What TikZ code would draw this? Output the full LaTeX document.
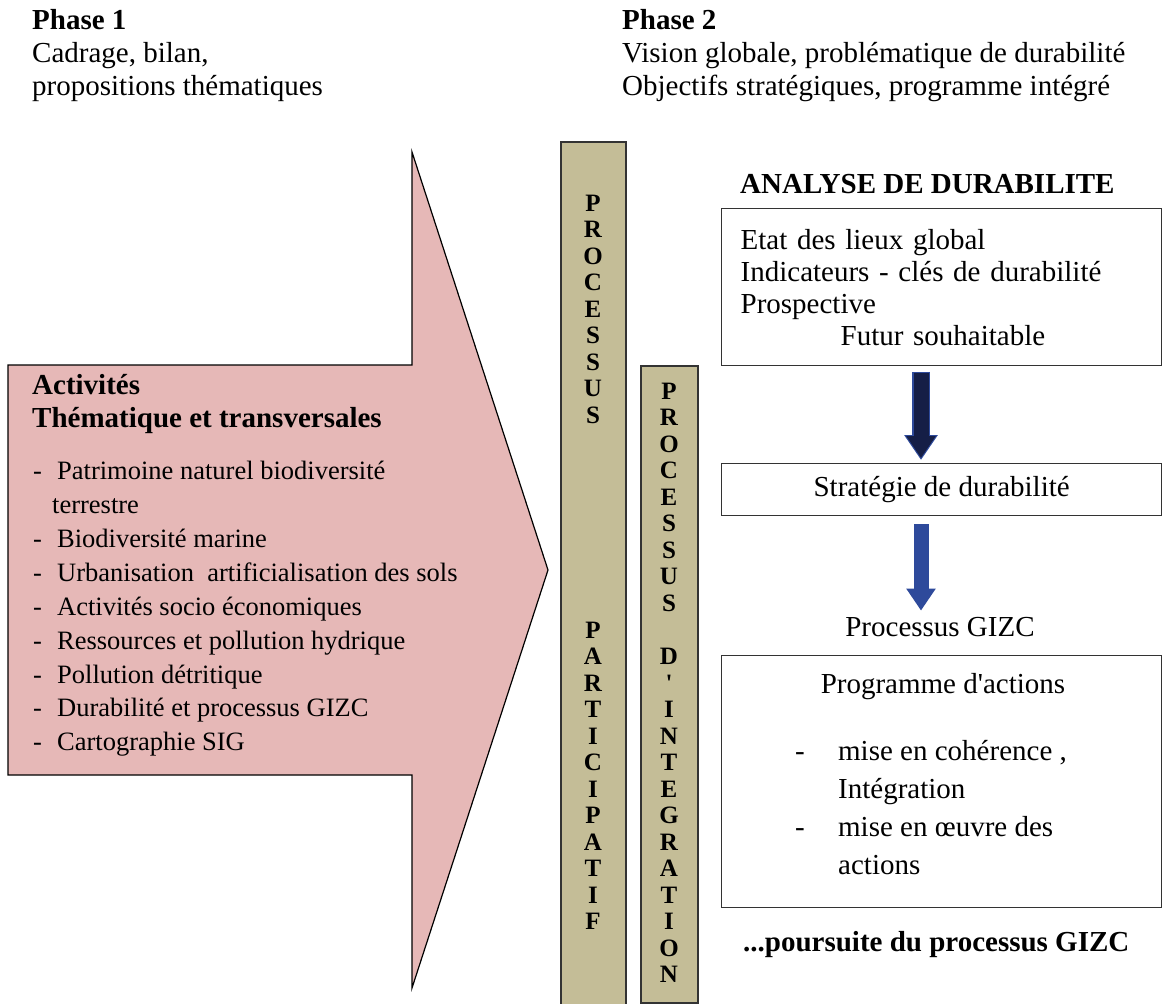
\documentclass[tikz,border=0pt]{standalone}
\usepackage{fontspec}
\setmainfont{Liberation Serif}
\usetikzlibrary{arrows.meta,positioning,calc}

\definecolor{arrowpink}{HTML}{E6B8B7}
\definecolor{bartan}{HTML}{C4BD97}
\definecolor{navy}{HTML}{151E46}
\definecolor{flowblue}{HTML}{2E4A9B}

\begin{document}
\begin{tikzpicture}[
    x=1pt, y=-1pt,
    every node/.style={inner sep=0pt, font=\fontsize{29}{32}\selectfont},
    bar/.style={rectangle, draw=black!80, fill=bartan, line width=1.5pt, anchor=north},
    bartext/.style={align=center, font=\bfseries\fontsize{25}{26.5}\selectfont},
    box/.style={rectangle, draw=black!80, line width=1.3pt, minimum width=440pt, anchor=north west},
    header/.style={anchor=north west, align=left, font=\fontsize{29}{33}\selectfont},
    flowarrow/.style={line width=15pt, -{Triangle[length=22pt, width=28pt]}}
]
\useasboundingbox (0,0) rectangle (1162,1004);

% Phases
\node[header] (phaseone) at (32,9) {\textbf{Phase 1}\\Cadrage, bilan,\\propositions thématiques};
\node[header] (phasetwo) at (622,9) {\textbf{Phase 2}\\Vision globale, problématique de durabilité\\Objectifs stratégiques, programme intégré};

% Big arrow of the activities
\draw[fill=arrowpink, line width=1.2pt] (8,365) -- (412,365) -- (412,152) -- (548,570) -- (412,988) -- (412,775) -- (8,775) -- cycle;
\node[anchor=north west, align=left, font=\bfseries\fontsize{29}{33}\selectfont] (acttitle) at (32,374) {Activités\\Thématique et transversales};
\node[anchor=north west, align=left, font=\fontsize{26.5}{33.9}\selectfont] (actlist) at (33,461) {%
\makebox[24pt][l]{-}Patrimoine naturel biodiversité\\
\hspace*{19pt}terrestre\\
\makebox[24pt][l]{-}Biodiversité marine\\
\makebox[24pt][l]{-}Urbanisation\ \ artificialisation des sols\\
\makebox[24pt][l]{-}Activités socio économiques\\
\makebox[24pt][l]{-}Ressources et pollution hydrique\\
\makebox[24pt][l]{-}Pollution détritique\\
\makebox[24pt][l]{-}Durabilité et processus GIZC\\
\makebox[24pt][l]{-}Cartographie SIG};

% Vertical processes
\node[bar, minimum width=65pt, minimum height=880pt] (barpart) at (593.5,141) {};
\node[bar, minimum width=57pt, minimum height=637pt] (barinteg) at (669.5,365) {};
\node[bartext] (procone) at (593,309) {P\\R\\O\\C\\E\\S\\S\\U\\S};
\node[bartext] (partic) at (593,776) {P\\A\\R\\T\\I\\C\\I\\P\\A\\T\\I\\F};
\node[bartext] (integ) at (669,683) {P\\R\\O\\C\\E\\S\\S\\U\\S\\[27pt]D\\\textquotesingle\\I\\N\\T\\E\\G\\R\\A\\T\\I\\O\\N};

% Sustainability analysis
\node[anchor=base west, font=\bfseries\fontsize{29}{32}\selectfont] (analyse) at (740,193) {ANALYSE DE DURABILITE};
\node[box, minimum height=157pt, inner xsep=19pt, text width=402pt, align=left] (etat) at (721,208) {Etat des lieux global\\Indicateurs - clés de durabilité\\Prospective\\\hspace*{100pt}Futur souhaitable};
\node[box, minimum height=52pt] (strat) at (721,463) {Stratégie de durabilité};
\node[anchor=base] (gizc) at (940,636) {Processus GIZC};
\node[box, minimum height=252pt] (prog) at (721,655) {};
\node[anchor=base] (progtitle) at (943,693) {Programme d\textquotesingle actions};
\node[anchor=north west, align=left, font=\fontsize{29}{38}\selectfont] (proglist) at (795,740) {%
\makebox[43pt][l]{-}mise en cohérence ,\\
\hspace*{43pt}Intégration\\
\makebox[43pt][l]{-}mise en œuvre des\\
\hspace*{43pt}actions};
\node[anchor=base west, font=\bfseries\fontsize{29}{32}\selectfont] (suite) at (743,951) {...poursuite du processus GIZC};

% Flow arrows
\coordinate (flowcol) at (921,0);
\draw[flowarrow, draw=navy, shorten <=7pt, shorten >=5pt,
      preaction={draw=flowblue, line width=18pt, -{Triangle[length=25pt, width=32pt]}, shorten <=5.5pt, shorten >=3pt}]
    (etat.south -| flowcol) -- (strat.north -| flowcol);
\draw[flowarrow, draw=flowblue, shorten <=8pt, shorten >=6pt] (strat.south -| flowcol) -- (gizc.north -| flowcol);

\end{tikzpicture}
\end{document}
